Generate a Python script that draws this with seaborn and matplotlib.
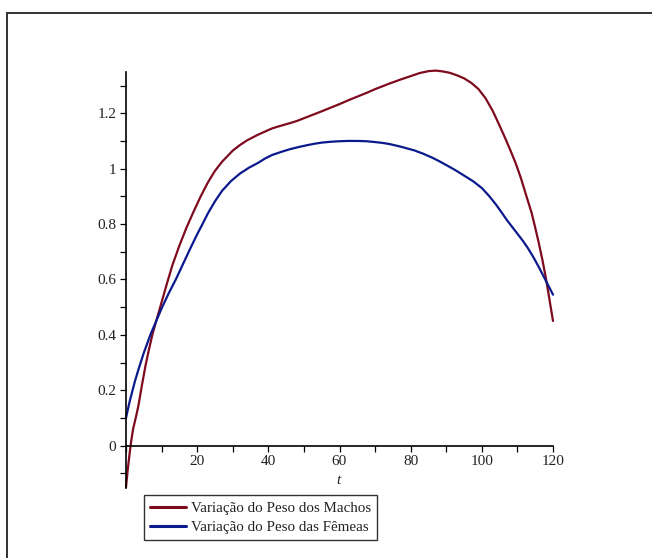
import numpy as np
import pandas as pd
import matplotlib
matplotlib.use("Agg")
import matplotlib.pyplot as plt
import matplotlib.patches as mpatches
from matplotlib.ticker import MultipleLocator
import seaborn as sns

# ---- data ----
t_machos = [0, 0.5, 1, 1.5, 2, 3, 3.5, 4.5, 5.5, 6.5, 7.5, 8.5, 9.5, 10.5, 11.5,
            13, 15, 17, 19, 21, 23, 25, 27, 30, 32, 34, 37, 41, 43, 46, 48, 51,
            55, 57.5, 60, 62.5, 65, 67.5, 70, 74, 77, 80, 82.5, 85, 87, 89, 91,
            93, 95, 97, 99, 101, 103, 105, 106.5, 108, 109.5, 111, 112.5, 114,
            115, 116, 117, 118, 119, 120]
peso_machos = [-0.150, -0.085, -0.030, 0.020, 0.060, 0.115, 0.145, 0.220, 0.290,
               0.350, 0.405, 0.450, 0.495, 0.540, 0.585, 0.650, 0.722, 0.787,
               0.845, 0.900, 0.950, 0.992, 1.025, 1.065, 1.085, 1.102, 1.122,
               1.145, 1.153, 1.164, 1.172, 1.187, 1.207, 1.220, 1.233, 1.247,
               1.260, 1.273, 1.287, 1.307, 1.321, 1.334, 1.345, 1.352, 1.354,
               1.351, 1.346, 1.337, 1.326, 1.310, 1.288, 1.255, 1.210, 1.155,
               1.112, 1.067, 1.020, 0.965, 0.902, 0.840, 0.787, 0.732, 0.672,
               0.605, 0.528, 0.450]

t_femeas = [0, 1, 2.5, 3.5, 5, 7, 8.5, 10, 12, 14, 16, 18, 20, 21.5, 23, 25, 27,
            29.5, 32, 34.5, 37, 39, 41, 43.5, 46, 48.5, 51, 53, 55, 57.5, 60,
            62.5, 65, 67.5, 70, 72, 74, 77, 81, 83.5, 86, 88, 90, 92.5, 95, 97.5,
            100, 102, 104, 105.5, 107, 108.5, 110, 111.5, 113, 114.5, 116, 117,
            118, 119, 120]
peso_femeas = [0.100, 0.158, 0.232, 0.275, 0.335, 0.405, 0.450, 0.495, 0.550,
               0.600, 0.655, 0.710, 0.763, 0.800, 0.838, 0.882, 0.920, 0.955,
               0.982, 1.003, 1.020, 1.036, 1.049, 1.060, 1.070, 1.078, 1.085,
               1.090, 1.094, 1.097, 1.099, 1.100, 1.100, 1.099, 1.096, 1.093,
               1.089, 1.080, 1.066, 1.054, 1.040, 1.027, 1.013, 0.995, 0.975,
               0.955, 0.930, 0.902, 0.870, 0.843, 0.815, 0.790, 0.765, 0.740,
               0.712, 0.680, 0.645, 0.620, 0.595, 0.570, 0.545]

labels = ["Variação do Peso dos Machos", "Variação do Peso das Fêmeas"]
x_ticks = [20, 40, 60, 80, 100, 120]
y_ticks = [0, 0.2, 0.4, 0.6, 0.8, 1, 1.2]
y_tick_labels = ["0", "0.2", "0.4", "0.6", "0.8", "1", "1.2"]

df = pd.concat([
    pd.DataFrame({"t": t_machos, "peso": peso_machos, "serie": labels[0]}),
    pd.DataFrame({"t": t_femeas, "peso": peso_femeas, "serie": labels[1]}),
], ignore_index=True)

sns.set_theme(style="white")
plt.rcParams["font.family"] = ["Liberation Serif", "DejaVu Serif"]

W, H = 652, 558
fig = plt.figure(figsize=(W / 100, H / 100), dpi=100)
ax = fig.add_axes([126 / W, 1 - 488 / H, (553 - 126) / W, (488 - 71.7) / H])

palette = {labels[0]: "#7E0A1E", labels[1]: "#0A1A8C"}
sns.lineplot(data=df, x="t", y="peso", hue="serie", palette=palette,
             sort=True, estimator=None, linewidth=1.6, ax=ax, legend=False)
for ln in ax.get_lines():
    ln.set_clip_on(False)
    ln.set_solid_joinstyle("round")

ax.set_xlim(0, 120)
ax.set_ylim(-0.153, 1.35)

for s in ["top", "right"]:
    ax.spines[s].set_visible(False)
ax.spines["left"].set_position(("data", 0))
ax.spines["bottom"].set_position(("data", 0))
for s in ["left", "bottom"]:
    ax.spines[s].set_color("black")
    ax.spines[s].set_linewidth(1.2)

ax.set_xticks(x_ticks)
ax.set_xticklabels([str(v) for v in x_ticks])
ax.set_yticks(y_ticks)
ax.set_yticklabels(y_tick_labels)
ax.xaxis.set_minor_locator(MultipleLocator(10))
ax.yaxis.set_minor_locator(MultipleLocator(0.1))
ax.tick_params(which="both", direction="out", length=4, width=0.9, colors="black",
               labelsize=11, labelcolor="#222222")
ax.tick_params(axis="x", which="both", bottom=True, pad=3)
ax.tick_params(axis="y", which="both", left=True, pad=3)
ax.set_xlabel("")
ax.set_ylabel("")

fig.text(338.5 / W, 1 - 480 / H, "t", style="italic", fontsize=11,
         ha="center", va="center", color="#222222")

handles = [plt.Line2D([], [], color=palette[l], lw=2.2) for l in labels]
leg = fig.legend(handles, labels, loc="upper left",
                 bbox_to_anchor=(144 / W, 1 - 495 / H), frameon=True,
                 fontsize=10.8, handlelength=2.35, handletextpad=0.35,
                 borderpad=0.42, labelspacing=0.38, borderaxespad=0,
                 fancybox=False)
leg.get_frame().set_edgecolor("black")
leg.get_frame().set_linewidth(1.0)
for txt in leg.get_texts():
    txt.set_color("#222222")

fig.patches.append(mpatches.Rectangle((7 / W, -0.05), 1.1, 1 - 13 / H + 0.05,
                                      transform=fig.transFigure, fill=False,
                                      edgecolor="#222222", linewidth=1.3,
                                      clip_on=False))

fig.savefig("out.png", dpi=100)
